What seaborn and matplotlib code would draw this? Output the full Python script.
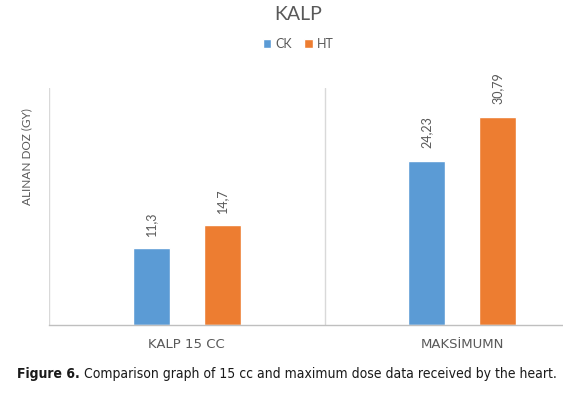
import matplotlib
matplotlib.use("Agg")
import matplotlib.pyplot as plt
import seaborn as sns
import pandas as pd

# data
kategoriler = ["KALP 15 CC", "MAKSİMUMN"]
gruplar = ["CK", "HT"]
ck_degerleri = [11.3, 24.23]
ht_degerleri = [14.7, 30.79]
renkler = ["#5B9BD5", "#ED7D31"]

baslik = "KALP"
y_etiketi = "ALINAN DOZ (GY)"
aciklama_kalin = "Figure 6."
aciklama = " Comparison graph of 15 cc and maximum dose data received by the heart."


def main():
    df = pd.DataFrame({
        "kategori": kategoriler * 2,
        "grup": [gruplar[0]] * len(kategoriler) + [gruplar[1]] * len(kategoriler),
        "doz": ck_degerleri + ht_degerleri,
    })

    sns.set_style("white")
    plt.rcParams["font.family"] = ["Lato", "DejaVu Sans"]
    gri = "#595959"

    fig = plt.figure(figsize=(5.63, 3.93), dpi=100)
    ax = fig.add_axes([49 / 563, 68 / 393, 551 / 563, 237 / 393])

    sns.barplot(data=df, x="kategori", y="doz", hue="grup", palette=renkler,
                width=0.516, gap=0.48, ax=ax, errorbar=None, saturation=1)

    ax.set_xlim(-0.5, 1.5)
    ax.set_ylim(0, 35)
    ax.set_yticks([])
    ax.set_xlabel("")
    ax.set_ylabel(y_etiketi, fontsize=8.5, color=gri)
    ax.yaxis.set_label_coords(-0.031, 0.71)
    ax.tick_params(axis="x", length=0, pad=9, labelsize=9.5, labelcolor=gri)
    for lbl in ax.get_xticklabels():
        lbl.set_fontfamily("DejaVu Sans")

    for s in ["top", "right", "left"]:
        ax.spines[s].set_visible(False)
    ax.spines["bottom"].set_color("#bfbfbf")
    ax.spines["bottom"].set_linewidth(1)
    for x in [-0.5, 0.5, 1.5]:
        ax.axvline(x, color="#d9d9d9", lw=1, zorder=0)

    for cont in ax.containers:
        etiketler = [str(b.get_height()).replace(".", ",") for b in cont]
        ax.bar_label(cont, labels=etiketler, rotation=90, padding=9,
                     fontsize=9, color=gri)

    ax.legend(loc="center", bbox_to_anchor=(298 / 563, 1 - 44 / 393),
              bbox_transform=fig.transFigure, ncol=2, frameon=False,
              handlelength=0.7, handleheight=0.7, handletextpad=0.3,
              columnspacing=1.0, fontsize=9, labelcolor=gri)

    fig.text(298 / 563, 1 - 14 / 393, baslik, ha="center", va="center",
             fontsize=14, color=gri)

    # caption: bold lead + regular text, sized to span the same width as the reference
    renderer = fig.canvas.get_renderer()
    boyut = 11.5
    y_c = 1 - 374 / 393
    t1 = fig.text(17 / 563, y_c, aciklama_kalin, ha="left", va="center",
                  fontsize=boyut, fontweight="bold", color="#1a1a1a",
                  fontstretch="condensed", family=["DejaVu Sans"])
    t2 = fig.text(0, y_c, aciklama, ha="left", va="center",
                  fontsize=boyut, color="#1a1a1a",
                  fontstretch="condensed", family=["DejaVu Sans"])
    genislik = (t1.get_window_extent(renderer).width
                + t2.get_window_extent(renderer).width)
    boyut = boyut * 538 / genislik
    t1.set_fontsize(boyut)
    t2.set_fontsize(boyut)
    bb = t1.get_window_extent(renderer)
    t2.set_x(bb.x1 / fig.bbox.width)

    fig.savefig("out.png", dpi=100)
    plt.close(fig)


if __name__ == "__main__":
    main()
